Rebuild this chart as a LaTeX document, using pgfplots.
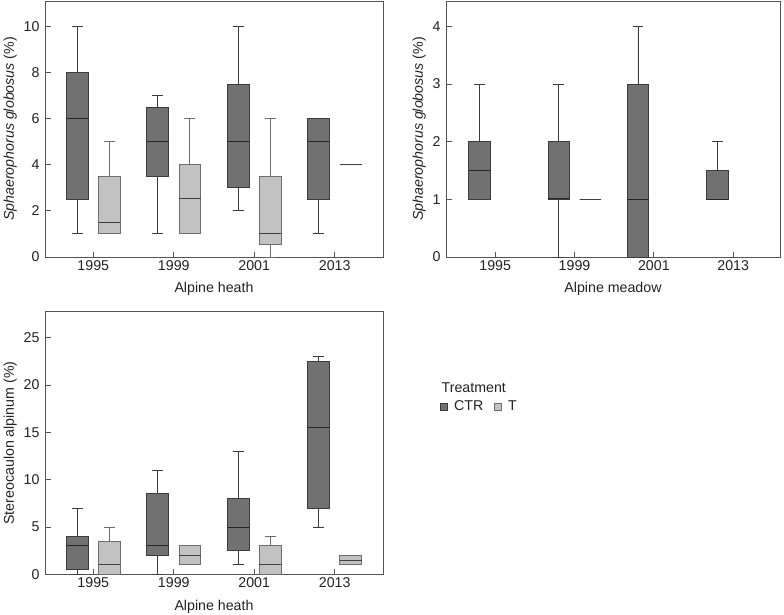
\documentclass[border=0pt]{standalone}
\usepackage{fontspec}
\setmainfont{Liberation Sans}
\usepackage{pgfplots}
\pgfplotsset{compat=1.18}
\usepgfplotslibrary{statistics}
\definecolor{ctrfill}{HTML}{717171}
\definecolor{ctredge}{HTML}{3C3C3C}
\definecolor{tfill}{HTML}{C2C2C2}
\definecolor{tedge}{HTML}{6E6E6E}
\definecolor{axcol}{HTML}{555555}
\definecolor{txt}{HTML}{222222}
\newcommand{\fs}{\fontsize{14.2}{16}\selectfont}
\pgfplotsset{
  panel/.style={
    scale only axis,
    xtick={0,1,2,3},
    xticklabels={1995,1999,2001,2013},
    tick pos=left,
    tick align=inside,
    major tick length=5.5pt,
    axis line style={axcol, line width=0.9pt},
    tick style={axcol, line width=0.9pt},
    tick label style={font=\fs, text=txt},
    yticklabel style={xshift=-2pt},
    label style={font=\fs, text=txt},
    xlabel style={yshift=-5pt},
    /pgf/number format/assume math mode=true,
    clip=false,
  },
  ctr/.style={draw=ctredge, fill=ctrfill, line width=0.9pt, solid,
    boxplot/draw direction=y,
    boxplot/box extend=0.27, boxplot/whisker extend=0.135,
    boxplot/every whisker/.style={draw=ctredge},
    boxplot/every median/.style={draw=black!85}},
  tt/.style={draw=tedge, fill=tfill, line width=0.9pt, solid,
    boxplot/draw direction=y,
    boxplot/box extend=0.27, boxplot/whisker extend=0.135,
    boxplot/every whisker/.style={draw=tedge},
    boxplot/every median/.style={draw=black!75}},
}
% #1 style, #2 position, #3 lower whisker, #4 Q1, #5 median, #6 Q3, #7 upper whisker
\newcommand{\bx}[7]{\addplot[#1, forget plot, boxplot prepared={draw position=#2, lower whisker=#3, lower quartile=#4, median=#5, upper quartile=#6, upper whisker=#7}] coordinates {};}
\begin{document}
\begin{tikzpicture}
\path[use as bounding box] (0,0) rectangle (784pt,614pt);
% Top left
\begin{axis}[panel, at={(45pt,357pt)}, anchor=south west,
  width=338pt, height=256pt, xmin=-0.6, xmax=3.6, ymin=0, ymax=11.1,
  ytick={0,2,4,6,8,10},
  xlabel={Alpine heath}, ylabel={\textit{Sphaerophorus globosus} (\%)}]
\bx{ctr}{-0.2}{1}{2.5}{6}{8}{10}
\bx{tt}{0.2}{1}{1}{1.5}{3.5}{5}
\bx{ctr}{0.8}{1}{3.5}{5}{6.5}{7}
\bx{tt}{1.2}{1}{1}{2.55}{4}{6}
\bx{ctr}{1.8}{2}{3}{5}{7.5}{10}
\bx{tt}{2.2}{0}{0.55}{1}{3.5}{6}
\bx{ctr}{2.8}{1}{2.5}{5}{6}{6}
\bx{tt}{3.2}{4}{4}{4}{4}{4}
\end{axis}
% Top right
\begin{axis}[panel, at={(446pt,357pt)}, anchor=south west,
  width=334pt, height=256pt, xmin=-0.62, xmax=3.59, ymin=0, ymax=4.44,
  ytick={0,1,2,3,4},
  xlabel={Alpine meadow}, ylabel={\textit{Sphaerophorus globosus} (\%)}]
\bx{ctr}{-0.2}{1}{1}{1.5}{2}{3}
\bx{ctr}{0.8}{0}{1}{1.02}{2}{3}
\bx{tt}{1.2}{1}{1}{1}{1}{1}
\bx{ctr}{1.8}{0}{0}{1}{3}{4}
\bx{ctr}{2.8}{1}{1}{1}{1.5}{2}
\end{axis}
% Bottom left
\begin{axis}[panel, at={(45pt,39.7pt)}, anchor=south west,
  width=338pt, height=262.6pt, xmin=-0.6, xmax=3.6, ymin=0, ymax=27.75,
  ytick={0,5,10,15,20,25},
  xlabel={Alpine heath}, ylabel={Stereocaulon alpinum (\%)},
  legend columns=2,
  legend style={at={(axis description cs:1.1686,0.638)}, anchor=west,
    draw=none, fill=none, inner sep=0pt, font=\fs, text=txt,
    /tikz/every odd column/.append style={column sep=4pt},
    /tikz/every even column/.append style={column sep=9pt}},
  legend cell align=left,
  legend image code/.code={\draw[#1, line width=0.7pt] (0pt,-3.6pt) rectangle (7.2pt,3.6pt);}]
\addlegendimage{draw=ctredge, fill=ctrfill}
\addlegendentry{CTR}
\addlegendimage{draw=tedge, fill=tfill}
\addlegendentry{T}
\bx{ctr}{-0.2}{0}{0.5}{3}{4}{7}
\bx{tt}{0.2}{0}{0}{1}{3.5}{5}
\bx{ctr}{0.8}{0}{2}{3}{8.5}{11}
\bx{tt}{1.2}{1}{1}{2}{3}{3}
\bx{ctr}{1.8}{1}{2.5}{5}{8}{13}
\bx{tt}{2.2}{0}{0}{1}{3}{4}
\bx{ctr}{2.8}{5}{7}{15.5}{22.5}{23}
\bx{tt}{3.2}{1}{1}{1.5}{2}{2}
\end{axis}
\node[anchor=west, font=\fs, text=txt, inner sep=0pt] at (441.5pt,226pt) {Treatment};
\end{tikzpicture}
\end{document}
